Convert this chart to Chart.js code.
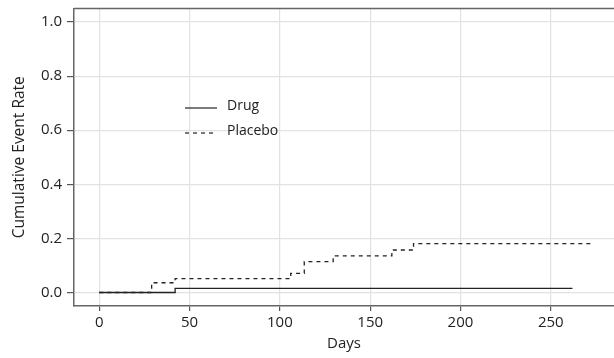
<!DOCTYPE html>
<html>
<head>
<meta charset="utf-8">
<script src="https://cdn.jsdelivr.net/npm/chart.js@4/dist/chart.umd.min.js"></script>
<style>
  html, body { margin: 0; padding: 0; background: #fff; }
  #wrap { width: 614px; height: 358px; position: relative; }
</style>
</head>
<body>
<div id="wrap"><canvas id="chart"></canvas></div>
<script>
// courbes cumulées
const drugDays = [0, 42, 262];
const drugRate = [0, 0.015, 0.015];
const placeboDays = [0, 29, 42, 106, 113.5, 129.5, 162, 174, 274];
const placeboRate = [0, 0.036, 0.051, 0.071, 0.114, 0.135, 0.157, 0.181, 0.181];

const xTicks = [0, 50, 100, 150, 200, 250];
const yTicks = [0, 0.2, 0.4, 0.6, 0.8, 1.0];
const seriesNames = ['Drug', 'Placebo'];

const FONT = "'Open Sans', sans-serif";
const toPoints = (xs, ys) => xs.map((x, i) => ({ x: x, y: ys[i] }));

// bordure du panneau + légende dessinée dans la zone du graphique
const panelPlugin = {
  id: 'panel',
  afterDraw(chart) {
    const { ctx, chartArea } = chart;
    ctx.save();
    ctx.strokeStyle = '#666';
    ctx.lineWidth = 1.5;
    ctx.beginPath();
    ctx.moveTo(chartArea.left, chartArea.top);
    ctx.lineTo(chartArea.right + 10, chartArea.top);
    ctx.stroke();

    // légende
    const rows = [
      { name: seriesNames[0], dash: [], y: 106 },
      { name: seriesNames[1], dash: [4, 4], y: 131 }
    ];
    ctx.font = '14px ' + FONT;
    ctx.textBaseline = 'middle';
    rows.forEach(r => {
      ctx.strokeStyle = '#222';
      ctx.lineWidth = 1.2;
      ctx.setLineDash(r.dash);
      ctx.beginPath();
      ctx.moveTo(185, r.y + 2);
      ctx.lineTo(217, r.y + 2);
      ctx.stroke();
      ctx.setLineDash([]);
      ctx.fillStyle = '#222';
      ctx.fillText(r.name, 227, r.y);
    });
    ctx.restore();
  }
};

new Chart(document.getElementById('chart'), {
  type: 'line',
  data: {
    datasets: [
      {
        label: seriesNames[0],
        data: toPoints(drugDays, drugRate),
        borderColor: '#222',
        borderWidth: 1.3,
        stepped: true,
        pointRadius: 0,
        fill: false
      },
      {
        label: seriesNames[1],
        data: toPoints(placeboDays, placeboRate),
        borderColor: '#222',
        borderWidth: 1.3,
        borderDash: [4, 4],
        stepped: true,
        pointRadius: 0,
        fill: false
      }
    ]
  },
  options: {
    responsive: true,
    maintainAspectRatio: false,
    animation: false,
    layout: { padding: { top: 8.5, right: 0, left: 0, bottom: 0 } },
    plugins: {
      legend: { display: false },
      tooltip: { enabled: false }
    },
    scales: {
      x: {
        type: 'linear',
        min: -14,
        max: 285,
        afterFit: s => { s.height = 52; s.paddingLeft = 0; s.paddingRight = 0; },
        afterBuildTicks: s => { s.ticks = xTicks.map(v => ({ value: v })); },
        ticks: {
          font: { family: FONT, size: 15 },
          color: '#222',
          padding: 3,
          maxRotation: 0,
          callback: v => String(v)
        },
        grid: { color: '#e2e2e2', lineWidth: 1.2, tickColor: '#555', tickLength: 5 },
        border: { display: true, color: '#666', width: 1.5 },
        title: {
          display: true,
          text: 'Days',
          font: { family: FONT, size: 15 },
          color: '#222',
          padding: { top: 5, bottom: 5 }
        }
      },
      y: {
        type: 'linear',
        min: -0.05,
        max: 1.05,
        afterFit: s => { s.width = 74; s.paddingTop = 0; s.paddingBottom = 0; },
        afterBuildTicks: s => { s.ticks = yTicks.map(v => ({ value: v })); },
        ticks: {
          font: { family: FONT, size: 15 },
          color: '#222',
          padding: 5,
          callback: v => Number(v).toFixed(1)
        },
        grid: { color: '#e2e2e2', lineWidth: 1.2, tickColor: '#555', tickLength: 7 },
        border: { display: true, color: '#666', width: 1.5 },
        title: {
          display: true,
          text: 'Cumulative Event Rate',
          font: { family: FONT, size: 15.5 },
          color: '#222',
          padding: { top: 10, bottom: 10 }
        }
      }
    }
  },
  plugins: [panelPlugin]
});
</script>
</body>
</html>
